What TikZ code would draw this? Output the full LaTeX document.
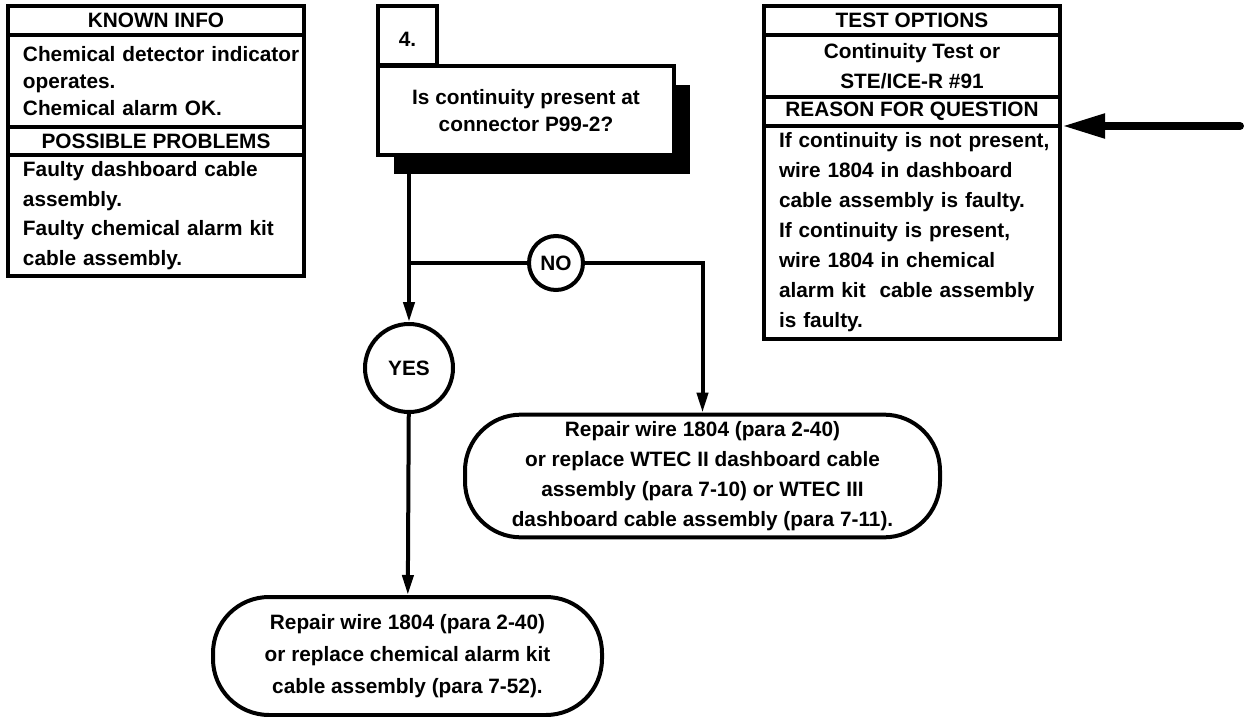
\documentclass[tikz,border=0pt]{standalone}
\usepackage{fontspec}
\setmainfont{Liberation Sans}
\usetikzlibrary{arrows.meta,shadows}
\tikzset{
  >={Triangle[length=10pt,width=5.5pt]},
  infohead/.style={draw,line width=2pt,minimum width=148pt,minimum height=#1,
    inner sep=0pt,align=center,font=\fontsize{10.4}{15}\selectfont\bfseries},
  infohead/.default=14.5pt,
  infobody/.style={draw,line width=2pt,text width=148pt,inner xsep=0pt,inner ysep=0pt,
    align=left,font=\fontsize{10.4}{#1}\selectfont\bfseries,
    execute at begin node={\leftskip=7.5pt}},
  infobody/.default=15pt,
  stepnum/.style={draw,line width=2pt,fill=white,minimum size=29.5pt,inner sep=0pt,
    text height=11pt,font=\fontsize{10.4}{13.5}\selectfont\bfseries},
  qbox/.style={draw,line width=2pt,fill=white,minimum width=148pt,minimum height=44.5pt,
    align=center,font=\fontsize{10.4}{13.5}\selectfont\bfseries,
    drop shadow={shadow xshift=8pt,shadow yshift=-9.5pt,opacity=1,fill=black}},
  answer/.style={circle,draw,line width=2pt,fill=white,minimum size=#1,inner sep=0pt,
    font=\fontsize{10.4}{13}\selectfont\bfseries},
  outcome/.style={draw,line width=2pt,rounded corners=28pt,align=center,
    font=\fontsize{10.4}{#1}\selectfont\bfseries},
  outcome/.default=15pt,
  flow/.style={line width=2pt},
  bigarrow/.style={-{Triangle[length=21.5pt,width=11.5pt]},line width=4pt,line cap=round},
}
\begin{document}
\begin{tikzpicture}[x=0.5pt,y=-0.5pt]
  \useasboundingbox (0,0) rectangle (1244,717);
  % left column
  \node[infohead] (knownhdr) at (156,20.5) {KNOWN INFO};
  \node[infobody=13.5pt,minimum height=46pt] (knownbody) at (156,81)
    {Chemical detector indicator\\operates.\\Chemical alarm OK.};
  \node[infohead=14pt] (probhdr) at (156,141) {POSSIBLE PROBLEMS};
  \node[infobody=14.75pt,minimum height=60.5pt] (probbody) at (156,215.5)
    {Faulty dashboard cable\\assembly.\\Faulty chemical alarm kit\\cable assembly.};
  % right column
  \node[infohead] (testhdr) at (912,20.5) {TEST OPTIONS};
  \node[infohead=31pt] (testbody) at (912,66) {Continuity Test or\\STE/ICE-R \#91};
  \node[infohead] (reasonhdr) at (912,111.5) {REASON FOR QUESTION};
  \node[infobody,minimum height=106.5pt] (reasonbody) at (912,232.5)
    {If continuity is not present,\\wire 1804 in dashboard\\cable assembly is faulty.\\If continuity is present,\\wire 1804 in chemical\\alarm kit~ cable assembly\\is faulty.};
  \coordinate (feed) at (1240,126);
  \draw[bigarrow] (feed) -- (feed -| reasonbody.east);
  % question
  \node[stepnum] (step) at (407.5,35.5) {4.};
  \node[qbox] (question) at (526,111) {Is continuity present at\\connector P99-2?};
  \node[answer=44pt] (yes) at (409,368) {YES};
  \node[answer=27pt] (no) at (556,263) {NO};
  \coordinate (branch) at (yes |- no);
  \node[outcome,minimum width=237.5pt,minimum height=61pt] (fixdash) at (702.5,476)
    {Repair wire 1804 (para 2-40)\\or replace WTEC II dashboard cable\\assembly (para 7-10) or WTEC III\\dashboard cable assembly (para 7-11).};
  \node[outcome=16pt,minimum width=194.5pt,minimum height=59pt] (fixkit) at (407.5,656)
    {Repair wire 1804 (para 2-40)\\or replace chemical alarm kit\\cable assembly (para 7-52).};
  \draw[flow,->] (question.south -| yes) -- (yes);
  \draw[flow] (branch) -- (no);
  \draw[flow,->] (no) -| (fixdash);
  \draw[flow,->] (yes) -- (fixkit);
\end{tikzpicture}
\end{document}
